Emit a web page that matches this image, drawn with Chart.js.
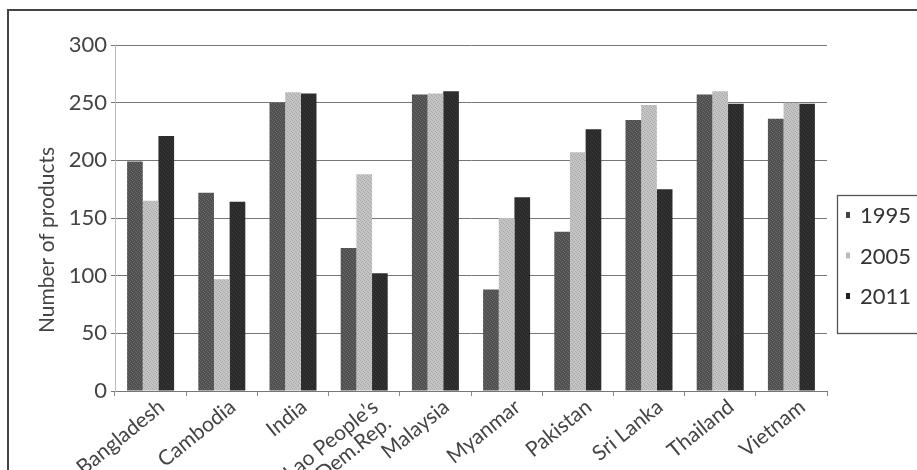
<!DOCTYPE html>
<html>
<head>
<meta charset="utf-8">
<script src="https://cdn.jsdelivr.net/npm/chart.js@4.4.0/dist/chart.umd.min.js"></script>
<style>
  html, body { margin: 0; padding: 0; background: #fff; }
  canvas { display: block; }
</style>
</head>
<body>
<canvas id="chart" width="917" height="470"></canvas>
<script>
// Product counts per country and survey year
const countries = ['Bangladesh', 'Cambodia', 'India', ['Lao People\u2019s', 'Dem.Rep.'], 'Malaysia',
                   'Myanmar', 'Pakistan', 'Sri Lanka', 'Thailand', 'Vietnam'];
const years = ['1995', '2005', '2011'];
const products1995 = [199, 172, 250, 124, 257, 88, 138, 235, 257, 236];
const products2005 = [165, 97, 259, 188, 258, 150, 207, 248, 260, 250];
const products2011 = [221, 164, 258, 102, 260, 168, 227, 175, 249, 249];
const yTickValues = [0, 50, 100, 150, 200, 250, 300];
const yTitle = 'Number of products';

const canvas = document.getElementById('chart');
const ctx = canvas.getContext('2d');

// Small dithered fill so the bars get a printed, halftone look
function speckle(base, alt) {
  const tile = document.createElement('canvas');
  tile.width = 4; tile.height = 4;
  const g = tile.getContext('2d');
  g.fillStyle = base; g.fillRect(0, 0, 4, 4);
  g.fillStyle = alt;
  [[0, 0], [2, 1], [1, 2], [3, 3]].forEach(([x, y]) => g.fillRect(x, y, 1, 1));
  return ctx.createPattern(tile, 'repeat');
}

const FONT = 'Lato, "Open Sans", sans-serif';

// Page frame: rule along the top and down the left side
const framePlugin = {
  id: 'frame',
  beforeDraw(chart) {
    const c = chart.ctx;
    c.save();
    c.fillStyle = '#fff';
    c.fillRect(0, 0, chart.width, chart.height);
    c.strokeStyle = '#444';
    c.lineWidth = 2;
    c.beginPath();
    c.moveTo(8, 470);
    c.lineTo(8, 10);
    c.lineTo(917, 10);
    c.stroke();
    c.restore();
  }
};

// Rotated y axis title
const yTitlePlugin = {
  id: 'yTitle',
  afterDraw(chart) {
    const c = chart.ctx;
    c.save();
    c.translate(47, 240);
    c.rotate(-Math.PI / 2);
    c.font = '21px ' + FONT;
    c.fillStyle = '#444';
    c.textAlign = 'center';
    c.textBaseline = 'middle';
    c.fillText(yTitle, 0, 0);
    c.restore();
  }
};

// Boxed legend to the right of the plot
const boxLegendPlugin = {
  id: 'boxLegend',
  afterDraw(chart) {
    const c = chart.ctx;
    c.save();
    c.strokeStyle = '#555';
    c.lineWidth = 1.3;
    c.strokeRect(837.5, 195.5, 100, 138);
    c.font = '22px ' + FONT;
    c.textBaseline = 'middle';
    chart.data.datasets.forEach((ds, i) => {
      const y = 215 + i * 40.5;
      c.fillStyle = ds.keyColor;
      c.fillRect(846, y - 3, 4, 6);
      c.fillStyle = '#333';
      c.fillText(ds.label, 860, y + 1);
    });
    c.restore();
  }
};

new Chart(ctx, {
  type: 'bar',
  data: {
    labels: countries,
    datasets: [
      { label: years[0], data: products1995, backgroundColor: speckle('#505050', '#6a6a6a'), keyColor: '#444' },
      { label: years[1], data: products2005, backgroundColor: speckle('#c4c4c4', '#a8a8a8'), keyColor: '#bbb' },
      { label: years[2], data: products2011, backgroundColor: speckle('#2a2a2a', '#383838'), keyColor: '#222' }
    ]
  },
  options: {
    responsive: false,
    animation: false,
    devicePixelRatio: 1,
    layout: { padding: { top: 45, right: 90, left: 0, bottom: 0 } },
    datasets: { bar: { categoryPercentage: 0.66, barPercentage: 1.0, borderWidth: 0 } },
    plugins: {
      legend: { display: false },
      tooltip: { enabled: false },
      title: { display: false }
    },
    scales: {
      x: {
        grid: { display: true, drawOnChartArea: false, drawTicks: true, tickLength: 5, offset: true, color: '#888' },
        border: { display: true, color: '#777', width: 1 },
        ticks: {
          font: { family: FONT, size: 21, lineHeight: 1.0 },
          color: '#444',
          minRotation: 39,
          maxRotation: 39,
          autoSkip: false,
          padding: 0,
          labelOffset: 11
        },
        afterFit(scale) { scale.height = 79; }
      },
      y: {
        min: 0,
        max: 300,
        afterBuildTicks(scale) { scale.ticks = yTickValues.map(v => ({ value: v })); },
        grid: { color: '#777', lineWidth: 1, tickLength: 4, drawTicks: true },
        border: { display: true, color: '#bbb', width: 1 },
        ticks: {
          font: { family: FONT, size: 22 },
          color: '#444',
          padding: 4
        },
        afterFit(scale) { scale.width = 115; }
      }
    }
  },
  plugins: [framePlugin, yTitlePlugin, boxLegendPlugin]
});
</script>
</body>
</html>
